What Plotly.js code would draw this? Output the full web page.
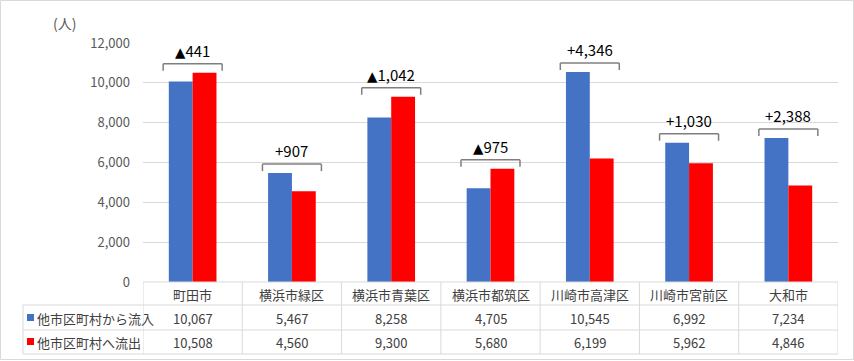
<!DOCTYPE html>
<html><head><meta charset="utf-8">
<script src="https://cdn.plot.ly/plotly-3.0.1.min.js"></script>
<style>html,body{margin:0;padding:0;background:#fff}#chart{width:854px;height:361px}</style>
</head><body><div id="chart"></div>
<script>
const categories = ['町田市','横浜市緑区','横浜市青葉区','横浜市都筑区','川崎市高津区','川崎市宮前区','大和市'];
const inflow  = [10067, 5467, 8258, 4705, 10545, 6992, 7234];
const outflow = [10508, 4560, 9300, 5680, 6199, 5962, 4846];
const seriesNames = ['他市区町村から流入', '他市区町村へ流出'];
const seriesColors = ['#4472C4', '#FF0000'];
const yTickVals = [0, 2000, 4000, 6000, 8000, 10000, 12000];
const unitLabel = '(人)';

const FONT = '"Noto Sans CJK JP", "Noto Sans", sans-serif';
const L = 143, T = 43, W = 695, H = 239;
const px = p => (p - L) / W;
const py = p => (T + H - p) / H;
const fmt = v => v.toLocaleString('en-US');
const yPerPx = 12000 / H;

const traces = [
  {type:'bar', name:seriesNames[0], x:categories, y:inflow, marker:{color:seriesColors[0]}, hoverinfo:'x+y'},
  {type:'bar', name:seriesNames[1], x:categories, y:outflow, marker:{color:seriesColors[1]}, hoverinfo:'x+y'}
];

const shapes = [];
const annotations = [];
const gridCol = '#d9d9d9';

// outer border
shapes.push({type:'rect', xref:'paper', yref:'paper', x0:px(0.5), x1:px(853.5), y0:py(0.5), y1:py(359.5), line:{color:gridCol, width:1}});

// brackets + difference labels
categories.forEach((c, i) => {
  const top = Math.max(inflow[i], outflow[i]) + 9 * yPerPx;
  const tick = 7 * yPerPx;
  const hw = 0.297;
  const lc = {color:'#7f7f7f', width:1.5};
  shapes.push({type:'line', xref:'x', yref:'y', x0:i-hw, x1:i+hw, y0:top, y1:top, line:lc});
  shapes.push({type:'line', xref:'x', yref:'y', x0:i-hw, x1:i-hw, y0:top, y1:top-tick, line:lc});
  shapes.push({type:'line', xref:'x', yref:'y', x0:i+hw, x1:i+hw, y0:top, y1:top-tick, line:lc});
  const d = inflow[i] - outflow[i];
  const txt = d < 0 ? '<span style="font-family:DejaVu Sans;font-size:13.5px">▲</span>' + fmt(-d) : '+' + fmt(d);
  annotations.push({x:i, y:top, xref:'x', yref:'y', text:txt, showarrow:false, xanchor:'center', yanchor:'bottom', yshift:1,
    font:{family:FONT, size:15, color:'#000'}});
});

// table lines
const tl = {color:gridCol, width:1};
shapes.push({type:'line', xref:'paper', yref:'paper', x0:px(143), x1:px(838), y0:py(282), y1:py(282), line:tl});
[305, 330, 354].forEach(p => shapes.push({type:'line', xref:'paper', yref:'paper', x0:px(23), x1:px(838), y0:py(p), y1:py(p), line:tl}));
shapes.push({type:'line', xref:'paper', yref:'paper', x0:px(23), x1:px(23), y0:py(305), y1:py(354), line:tl});
for (let k = 0; k <= categories.length; k++) {
  shapes.push({type:'line', xref:'x', yref:'paper', x0:k-0.5, x1:k-0.5, y0:py(282), y1:py(354), line:tl});
}

// table text
const rowCenters = [294, 318, 342];
const tf = {family:FONT, size:13, color:'#404040'};
const cell = (x, xref, y, text, xa) => annotations.push({x, y:py(y), xref, yref:'paper', text, showarrow:false,
  xanchor:xa || 'center', yanchor:'middle', font:tf});
categories.forEach((c, i) => {
  cell(i, 'x', rowCenters[0], c);
  cell(i, 'x', rowCenters[1], fmt(inflow[i]));
  cell(i, 'x', rowCenters[2], fmt(outflow[i]));
});
// legend keys
seriesNames.forEach((n, s) => {
  const cy = rowCenters[s + 1];
  shapes.push({type:'rect', xref:'paper', yref:'paper', x0:px(27), x1:px(34), y0:py(cy - 4), y1:py(cy + 3), fillcolor:seriesColors[s], line:{width:0}});
  cell(px(35), 'paper', cy, n, 'left');
});

// unit label
annotations.push({x:px(64), y:py(23), xref:'paper', yref:'paper', text:unitLabel, showarrow:false, xanchor:'center', yanchor:'middle',
  font:{family:FONT, size:14, color:'#595959'}});

const layout = {
  width:854, height:361,
  margin:{l:L, r:854-L-W, t:T, b:361-T-H, pad:0},
  paper_bgcolor:'#fff', plot_bgcolor:'#fff',
  showlegend:false,
  barmode:'group', bargap:0.52, bargroupgap:0,
  font:{family:FONT},
  xaxis:{type:'category', showticklabels:false, showgrid:false, zeroline:false, showline:false, ticks:'', fixedrange:true, range:[-0.5, categories.length-0.5]},
  yaxis:{range:[0, 12000], tickvals:yTickVals, ticktext:yTickVals.map(fmt), showgrid:true, gridcolor:gridCol, gridwidth:1,
         zeroline:false, showline:false, ticks:'', ticklabelstandoff:12, tickfont:{family:FONT, size:13, color:'#595959'}},
  shapes, annotations
};
Plotly.newPlot('chart', traces, layout, {displayModeBar:false, staticPlot:true});
</script></body></html>
